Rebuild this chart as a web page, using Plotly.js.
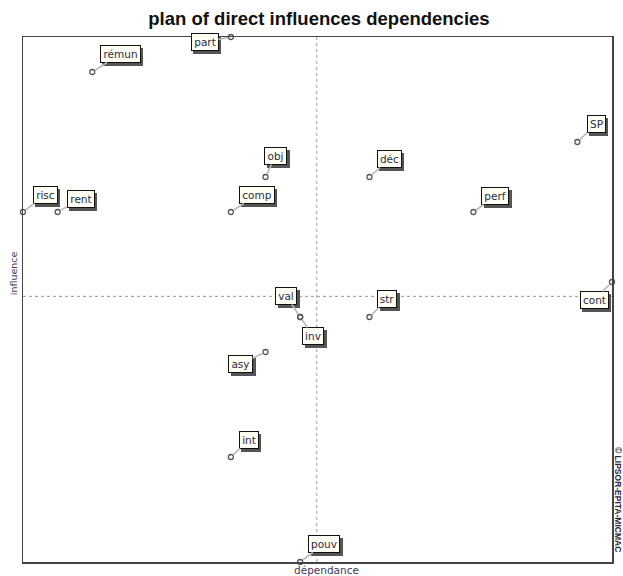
<!DOCTYPE html>
<html>
<head>
<meta charset="utf-8">
<script src="https://cdn.plot.ly/plotly-3.0.1.min.js"></script>
<style>html,body{margin:0;padding:0;background:#fff;}#chart{width:623px;height:576px;}</style>
</head>
<body>
<div id="chart"></div>
<script>
// Variables (short names as shown on the plan)
const variables = ["rémun","part","obj","comp","risc","rent","déc","perf","SP","val","inv","asy","int","str","cont","pouv"];
// Direct dependence (x) and direct influence (y), read from the plan
const dependence = [4, 8, 9, 8, 2, 3, 12, 15, 18, 10, 10, 9, 8, 12, 19, 10];
const influence  = [15, 16, 12, 11, 11, 11, 12, 11, 13, 8, 8, 7, 4, 8, 9, 1];
// Mean values (dashed quadrant lines)
const meanDependence = 10.48;
const meanInfluence = 8.59;

// label placement offsets (pixels) – layout only
const labelOffsets = [[28,-18],[-26,5],[10,-21],[26,-17],[22,-17],[23,-13],[20,-18],[22,-16],[19,-18],[-14,-21],[13,19],[-25,12],[18,-17],[18,-18],[-18,18],[24,-18]];

const xmin = Math.min(...dependence), xmax = Math.max(...dependence);
const ymin = Math.min(...influence), ymax = Math.max(...influence);

const labelFont = {family: "DejaVu Sans, Verdana, sans-serif", size: 10.5, color: "#2a2a44"};
const ctx = document.createElement('canvas').getContext('2d');
ctx.font = '10.5px "DejaVu Sans"';

const annotations = [];
variables.forEach((v, i) => {
  const [ax, ay] = labelOffsets[i];
  const w = Math.ceil(ctx.measureText(v).width) + 2;
  // shadow box
  annotations.push({x: dependence[i], y: influence[i], xref: 'x', yref: 'y', text: '&nbsp;',
    width: w, height: 14,
    ax: ax + 2.5, ay: ay + 2.5, showarrow: true, arrowwidth: 0.1, arrowcolor: 'rgba(0,0,0,0)', arrowhead: 0,
    font: labelFont, bgcolor: '#555', bordercolor: '#555', borderwidth: 1, borderpad: 1});
  // label
  annotations.push({x: dependence[i], y: influence[i], xref: 'x', yref: 'y', text: v,
    width: w, height: 14,
    ax: ax, ay: ay, showarrow: true, arrowwidth: 1.6, arrowcolor: '#b8b8b8', arrowhead: 0, standoff: 3,
    font: labelFont, bgcolor: '#fffff4', bordercolor: '#111', borderwidth: 1, borderpad: 1});
});
annotations.push({xref: 'paper', yref: 'paper', x: 0.5, y: 0, xshift: 9, yshift: 0, xanchor: 'center', yanchor: 'top', showarrow: false,
  text: 'dépendance', font: {family: 'DejaVu Sans, sans-serif', size: 10.5, color: '#3a3a5a'}});
annotations.push({xref: 'paper', yref: 'paper', x: 0, y: 0.55, xshift: -10, xanchor: 'center', yanchor: 'middle', showarrow: false, textangle: -90,
  text: 'influence', font: {family: 'DejaVu Sans, sans-serif', size: 9.5, color: '#3a3a5a'}});
annotations.push({xref: 'paper', yref: 'paper', x: 1, y: 0.12, xshift: 6, xanchor: 'center', yanchor: 'middle', showarrow: false, textangle: 90,
  text: '<b>© LIPSOR-EPITA-MICMAC</b>', font: {family: 'Liberation Sans, Arial, sans-serif', size: 8.5, color: '#2a2a44'}});

const trace = {
  x: dependence, y: influence, mode: 'markers', type: 'scatter', cliponaxis: false, hoverinfo: 'skip',
  marker: {symbol: 'circle-open', size: 5, color: '#555', line: {width: 1.3, color: '#555'}}
};

const layout = {
  width: 623, height: 576,
  margin: {l: 23, r: 11, t: 37, b: 14},
  paper_bgcolor: '#fff', plot_bgcolor: '#fff',
  title: {text: '<b>plan of direct influences dependencies</b>', x: 0.512, xanchor: 'center', y: 0.968, yanchor: 'middle',
    font: {family: 'Liberation Sans, Arial, sans-serif', size: 18.5, color: '#111'}},
  xaxis: {range: [xmin, xmax], showgrid: false, zeroline: false, showticklabels: false, ticks: '',
    showline: true, mirror: true, linecolor: '#444', linewidth: 1.5},
  yaxis: {range: [ymin, ymax], showgrid: false, zeroline: false, showticklabels: false, ticks: '',
    showline: true, mirror: true, linecolor: '#444', linewidth: 1.5},
  shapes: [
    {type: 'line', xref: 'x', yref: 'paper', x0: meanDependence, x1: meanDependence, y0: 0, y1: 1, layer: 'below',
      line: {color: '#999', width: 1, dash: 'dot'}},
    {type: 'line', xref: 'paper', yref: 'y', x0: 0, x1: 1, y0: meanInfluence, y1: meanInfluence, layer: 'below',
      line: {color: '#999', width: 1, dash: 'dot'}}
  ],
  annotations: annotations,
  showlegend: false
};

Plotly.newPlot('chart', [trace], layout, {staticPlot: true, displayModeBar: false});
</script>
</body>
</html>
